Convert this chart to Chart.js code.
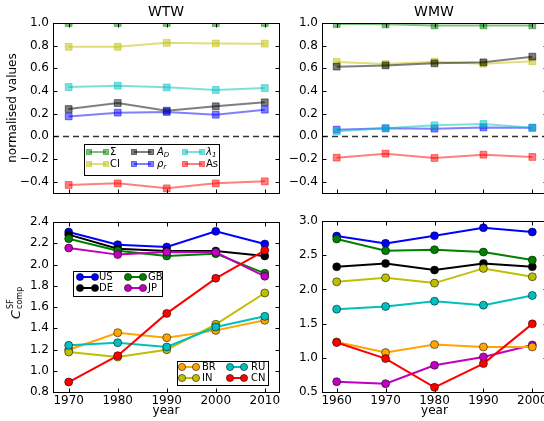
<!DOCTYPE html>
<html>
<head>
<meta charset="utf-8">
<script src="https://cdn.jsdelivr.net/npm/chart.js@4.4.0/dist/chart.umd.min.js"></script>
<style>
html, body { margin: 0; padding: 0; background: #fff; overflow: hidden; width: 544px; height: 421px; }
body { position: relative; font-family: "DejaVu Sans", sans-serif; }
canvas { position: absolute; left: 0; top: 0; }
.ttl { position: absolute; top: 3px; font-size: 14px; transform: translateX(-50%); white-space: nowrap; }
#clab { position: absolute; left: 15px; top: 303px; transform: translate(-50%, -50%) rotate(-90deg); white-space: nowrap; display: flex; align-items: center; }
#clab .c { font: italic 13px "DejaVu Sans"; }
#clab .ss { display: inline-flex; flex-direction: column; font-size: 8px; line-height: 9px; margin-left: 1px; }
</style>
</head>
<body>
<canvas id="wtw" width="560" height="421"></canvas>
<canvas id="wmw" width="560" height="421"></canvas>
<canvas id="cwtw" width="560" height="421"></canvas>
<canvas id="cwmw" width="560" height="421"></canvas>
<div class="ttl" style="left:166px">WTW</div>
<div class="ttl" style="left:434px">WMW</div>
<div id="clab"><span class="c">C</span><span class="ss"><span>SF</span><span>comp</span></span></div>
<script>
// years
const yearsWTW = [1970, 1980, 1990, 2000, 2010];
const yearsWMW = [1960, 1970, 1980, 1990, 2000];

// tick labels
const normTicks = [-0.4, -0.2, 0.0, 0.2, 0.4, 0.6, 0.8, 1.0];
const cwtwTicks = [0.8, 1.0, 1.2, 1.4, 1.6, 1.8, 2.0, 2.2, 2.4];
const cwmwTicks = [0.5, 1.0, 1.5, 2.0, 2.5, 3.0];

// normalised values, WTW
const wtwSigma  = [1.0, 1.0, 1.0, 1.0, 1.0];
const wtwCI     = [0.79, 0.79, 0.825, 0.82, 0.818];
const wtwAD     = [0.241, 0.294, 0.226, 0.265, 0.30];
const wtwRho    = [0.176, 0.209, 0.215, 0.191, 0.235];
const wtwLambda = [0.435, 0.447, 0.432, 0.409, 0.426];
const wtwAs     = [-0.429, -0.415, -0.459, -0.415, -0.397];

// normalised values, WMW
const wmwSigma  = [0.991, 0.988, 0.979, 0.979, 0.979];
const wmwCI     = [0.656, 0.638, 0.659, 0.641, 0.662];
const wmwAD     = [0.615, 0.626, 0.644, 0.653, 0.703];
const wmwRho    = [0.059, 0.071, 0.068, 0.079, 0.076];
const wmwLambda = [0.044, 0.071, 0.097, 0.109, 0.076];
const wmwAs     = [-0.188, -0.153, -0.191, -0.162, -0.182];

// C_comp, WTW
const cwtwUS = [2.306, 2.187, 2.165, 2.312, 2.193];
const cwtwDE = [2.281, 2.149, 2.127, 2.127, 2.08];
const cwtwGB = [2.243, 2.13, 2.08, 2.102, 1.917];
const cwtwJP = [2.155, 2.093, 2.118, 2.115, 1.889];
const cwtwBR = [1.198, 1.358, 1.311, 1.38, 1.475];
const cwtwIN = [1.176, 1.129, 1.198, 1.437, 1.732];
const cwtwRU = [1.239, 1.264, 1.224, 1.412, 1.512];
const cwtwCN = [0.894, 1.142, 1.54, 1.87, 2.133];

// C_comp, WMW
const cwmwUS = [2.78, 2.673, 2.785, 2.902, 2.839];
const cwmwDE = [2.331, 2.38, 2.282, 2.38, 2.331];
const cwmwGB = [2.736, 2.565, 2.58, 2.546, 2.429];
const cwmwJP = [0.651, 0.622, 0.891, 1.013, 1.188];
const cwmwBR = [1.232, 1.076, 1.193, 1.159, 1.159];
const cwmwIN = [2.111, 2.17, 2.092, 2.307, 2.185];
const cwmwRU = [1.711, 1.75, 1.828, 1.77, 1.911];
const cwmwCN = [1.223, 0.988, 0.568, 0.915, 1.496];

const RGB = {
    g: '0,128,0', y: '191,191,0', k: '0,0,0', b: '0,0,255',
    c: '0,191,191', r: '255,0,0', m: '191,0,191', o: '255,165,0'
};

function fmt(v) {
    const s = Math.abs(v).toFixed(1);
    return v < -1e-9 ? '\u2212' + s : s;
}

function pts(xs, ys) {
    return xs.map((x, i) => ({ x: x, y: ys[i] }));
}

function sqLine(xs, ys, c, label) {
    const col = 'rgba(' + RGB[c] + ',0.5)';
    return {
        label: label, data: pts(xs, ys),
        borderColor: col, borderWidth: 2,
        pointStyle: 'rect', pointRadius: 4.8,
        pointBackgroundColor: col, pointBorderColor: col, pointBorderWidth: 1
    };
}

function dotLine(xs, ys, c, label) {
    const col = 'rgb(' + RGB[c] + ')';
    return {
        label: label, data: pts(xs, ys),
        borderColor: col, borderWidth: 2,
        pointStyle: 'circle', pointRadius: 4,
        pointBackgroundColor: col, pointBorderColor: 'rgba(0,0,0,0.75)', pointBorderWidth: 0.7
    };
}

function drawMarker(ctx, kind, x, y, c) {
    if (kind === 'rect') {
        const col = 'rgba(' + RGB[c] + ',0.5)';
        ctx.fillStyle = col;
        ctx.strokeStyle = col;
        ctx.lineWidth = 1;
        ctx.fillRect(x - 2.5, y - 2.5, 5, 5);
        ctx.strokeRect(x - 2.5, y - 2.5, 5, 5);
    } else {
        ctx.fillStyle = 'rgb(' + RGB[c] + ')';
        ctx.strokeStyle = 'rgba(0,0,0,0.75)';
        ctx.lineWidth = 0.7;
        ctx.beginPath();
        ctx.arc(x, y, 3.6, 0, Math.PI * 2);
        ctx.fill();
        ctx.stroke();
    }
}

function drawLegend(ctx, lg) {
    const [x0, y0, x1, y1] = lg.box;
    ctx.save();
    ctx.fillStyle = '#fff';
    ctx.fillRect(x0, y0, x1 - x0, y1 - y0);
    ctx.strokeStyle = '#000';
    ctx.lineWidth = 1;
    ctx.strokeRect(x0 + 0.5, y0 + 0.5, x1 - x0, y1 - y0);
    lg.items.forEach(it => {
        const alpha = lg.kind === 'rect' ? 0.5 : 1;
        ctx.strokeStyle = 'rgba(' + RGB[it.c] + ',' + alpha + ')';
        ctx.lineWidth = 2;
        ctx.beginPath();
        ctx.moveTo(it.a, it.y);
        ctx.lineTo(it.b, it.y);
        ctx.stroke();
        drawMarker(ctx, lg.kind, it.a, it.y, it.c);
        drawMarker(ctx, lg.kind, it.b, it.y, it.c);
        ctx.fillStyle = '#000';
        ctx.textBaseline = 'middle';
        ctx.textAlign = 'left';
        ctx.font = (it.it ? 'italic ' : '') + '10px "DejaVu Sans"';
        ctx.fillText(it.t, it.tx, it.y);
        if (it.sub) {
            const w = ctx.measureText(it.t).width;
            ctx.font = (it.it ? 'italic ' : '') + '7px "DejaVu Sans"';
            ctx.fillText(it.sub, it.tx + w, it.y + 3);
        }
    });
    ctx.restore();
}

const frame = {
    id: 'frame',
    beforeDatasetsDraw(chart, args, opts) {
        if (!opts.zero) return;
        const { ctx, chartArea: a } = chart;
        const y = Math.round(chart.scales.y.getPixelForValue(0)) + 0.5;
        ctx.save();
        ctx.strokeStyle = '#333';
        ctx.lineWidth = 1.5;
        ctx.setLineDash([6, 4]);
        ctx.beginPath();
        ctx.moveTo(a.left, y);
        ctx.lineTo(a.right, y);
        ctx.stroke();
        ctx.restore();
    },
    afterDatasetsDraw(chart) {
        const { ctx, chartArea: a } = chart;
        const sx = chart.scales.x, sy = chart.scales.y;
        ctx.save();
        ctx.strokeStyle = '#000';
        ctx.lineWidth = 1;
        const L = Math.round(a.left) + 0.5, R = Math.round(a.right) + 0.5;
        const T = Math.round(a.top) + 0.5, B = Math.round(a.bottom) + 0.5;
        ctx.strokeRect(L, T, R - L, B - T);
        ctx.beginPath();
        sx.ticks.forEach(t => {
            const x = Math.round(sx.getPixelForValue(t.value)) + 0.5;
            ctx.moveTo(x, B); ctx.lineTo(x, B - 4);
            ctx.moveTo(x, T); ctx.lineTo(x, T + 4);
        });
        sy.ticks.forEach(t => {
            const y = Math.round(sy.getPixelForValue(t.value)) + 0.5;
            ctx.moveTo(L, y); ctx.lineTo(L + 4, y);
            ctx.moveTo(R, y); ctx.lineTo(R - 4, y);
        });
        ctx.stroke();
        ctx.restore();
    },
    afterDraw(chart, args, opts) {
        (opts.legends || []).forEach(lg => drawLegend(chart.ctx, lg));
    }
};

const tickFont = { family: 'DejaVu Sans', size: 12 };

function makeChart(id, p) {
    return new Chart(document.getElementById(id), {
        type: 'line',
        data: { datasets: p.datasets },
        plugins: [frame],
        options: {
            responsive: false,
            animation: false,
            events: [],
            layout: { padding: p.pad },
            elements: { line: { tension: 0 } },
            plugins: {
                legend: { display: false },
                tooltip: { enabled: false },
                frame: { zero: p.zero, legends: p.legends }
            },
            scales: {
                x: {
                    type: 'linear', min: p.xmin, max: p.xmax,
                    grid: { display: false, drawTicks: false },
                    border: { display: false },
                    ticks: { display: p.xlabels, padding: 2, color: '#000', font: tickFont, callback: v => String(v) },
                    title: { display: p.xlabels, text: 'year', color: '#000', font: tickFont, padding: { top: 0, bottom: 3 } },
                    afterBuildTicks: s => { s.ticks = p.xticks.map(v => ({ value: v })); },
                    afterFit: s => { s.height = p.xh; }
                },
                y: {
                    type: 'linear', min: p.ymin, max: p.ymax,
                    grid: { display: false, drawTicks: false },
                    border: { display: false },
                    ticks: { padding: 4, color: '#000', font: tickFont, callback: v => fmt(v) },
                    title: { display: !!p.ytitle, text: p.ytitle || '', color: '#000', font: tickFont, padding: { top: 6, bottom: 0 } },
                    afterBuildTicks: s => { s.ticks = p.yticks.map(v => ({ value: v })); },
                    afterFit: s => { s.width = p.yw; }
                }
            }
        }
    });
}

function order(list) {
    list.forEach((d, i) => { d.order = -i; });
    return list;
}

makeChart('wtw', {
    pad: { left: 0, right: 281, top: 23, bottom: 228 },
    xmin: 1966.8, xmax: 2012.9, xticks: yearsWTW, xlabels: false, xh: 0,
    ymin: -0.5, ymax: 1.0, yticks: normTicks, yw: 53, ytitle: 'normalised values',
    zero: true,
    datasets: order([
        sqLine(yearsWTW, wtwSigma, 'g', 'Σ'),
        sqLine(yearsWTW, wtwCI, 'y', 'CI'),
        sqLine(yearsWTW, wtwAD, 'k', 'A_D'),
        sqLine(yearsWTW, wtwRho, 'b', 'ρ_r'),
        sqLine(yearsWTW, wtwLambda, 'c', 'λ_1'),
        sqLine(yearsWTW, wtwAs, 'r', 'As')
    ]),
    legends: [{
        kind: 'rect', box: [84, 144, 219, 175],
        items: [
            { t: 'Σ', c: 'g', a: 89, b: 106, tx: 110, y: 152 },
            { t: 'CI', c: 'y', a: 89, b: 106, tx: 110, y: 164 },
            { t: 'A', sub: 'D', it: true, c: 'k', a: 134, b: 151, tx: 157, y: 152 },
            { t: 'ρ', sub: 'r', it: true, c: 'b', a: 134, b: 151, tx: 157, y: 164 },
            { t: 'λ', sub: '1', it: true, c: 'c', a: 185, b: 202, tx: 206, y: 152 },
            { t: 'As', c: 'r', a: 185, b: 202, tx: 206, y: 164 }
        ]
    }]
});

makeChart('wmw', {
    pad: { left: 282, right: 13, top: 23, bottom: 228 },
    xmin: 1957, xmax: 2003, xticks: yearsWMW, xlabels: false, xh: 0,
    ymin: -0.5, ymax: 1.0, yticks: normTicks, yw: 40,
    zero: true,
    datasets: order([
        sqLine(yearsWMW, wmwSigma, 'g', 'Σ'),
        sqLine(yearsWMW, wmwCI, 'y', 'CI'),
        sqLine(yearsWMW, wmwAD, 'k', 'A_D'),
        sqLine(yearsWMW, wmwRho, 'b', 'ρ_r'),
        sqLine(yearsWMW, wmwLambda, 'c', 'λ_1'),
        sqLine(yearsWMW, wmwAs, 'r', 'As')
    ])
});

makeChart('cwtw', {
    pad: { left: 0, right: 281, top: 222, bottom: 0 },
    xmin: 1966.8, xmax: 2012.9, xticks: yearsWTW, xlabels: true, xh: 29,
    ymin: 0.8, ymax: 2.4, yticks: cwtwTicks, yw: 53,
    zero: false,
    datasets: order([
        dotLine(yearsWTW, cwtwUS, 'b', 'US'),
        dotLine(yearsWTW, cwtwDE, 'k', 'DE'),
        dotLine(yearsWTW, cwtwGB, 'g', 'GB'),
        dotLine(yearsWTW, cwtwJP, 'm', 'JP'),
        dotLine(yearsWTW, cwtwBR, 'o', 'BR'),
        dotLine(yearsWTW, cwtwIN, 'y', 'IN'),
        dotLine(yearsWTW, cwtwRU, 'c', 'RU'),
        dotLine(yearsWTW, cwtwCN, 'r', 'CN')
    ]),
    legends: [{
        kind: 'dot', box: [73, 271, 162, 296],
        items: [
            { t: 'US', c: 'b', a: 80, b: 95, tx: 99, y: 277 },
            { t: 'DE', c: 'k', a: 80, b: 95, tx: 99, y: 288 },
            { t: 'GB', c: 'g', a: 128, b: 143, tx: 148, y: 277 },
            { t: 'JP', c: 'm', a: 128, b: 143, tx: 148, y: 288 }
        ]
    }, {
        kind: 'dot', box: [177, 361, 268, 385],
        items: [
            { t: 'BR', c: 'o', a: 182, b: 196, tx: 202, y: 367 },
            { t: 'IN', c: 'y', a: 182, b: 196, tx: 202, y: 378 },
            { t: 'RU', c: 'c', a: 230, b: 244, tx: 251, y: 367 },
            { t: 'CN', c: 'r', a: 230, b: 244, tx: 251, y: 378 }
        ]
    }]
});

makeChart('cwmw', {
    pad: { left: 282, right: 13, top: 221, bottom: 0 },
    xmin: 1957, xmax: 2003, xticks: yearsWMW, xlabels: true, xh: 29,
    ymin: 0.5, ymax: 3.0, yticks: cwmwTicks, yw: 40,
    zero: false,
    datasets: order([
        dotLine(yearsWMW, cwmwUS, 'b', 'US'),
        dotLine(yearsWMW, cwmwDE, 'k', 'DE'),
        dotLine(yearsWMW, cwmwGB, 'g', 'GB'),
        dotLine(yearsWMW, cwmwJP, 'm', 'JP'),
        dotLine(yearsWMW, cwmwBR, 'o', 'BR'),
        dotLine(yearsWMW, cwmwIN, 'y', 'IN'),
        dotLine(yearsWMW, cwmwRU, 'c', 'RU'),
        dotLine(yearsWMW, cwmwCN, 'r', 'CN')
    ])
});
</script>
</body>
</html>
